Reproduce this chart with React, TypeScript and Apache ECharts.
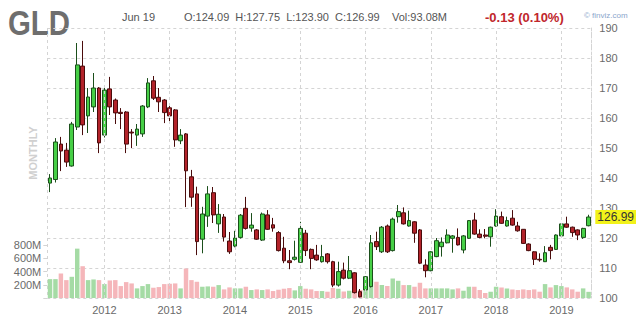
import React, { useEffect, useRef } from 'react';
import * as echarts from 'echarts';

// Monthly categories, Mar 2011 .. Jun 2019
const START_YEAR = 2011;
const START_MONTH = 3;
const MONTH_COUNT = 100;
const months: string[] = [];
for (let i = 0; i < MONTH_COUNT; i++) {
  const m = START_MONTH - 1 + i;
  const y = START_YEAR + Math.floor(m / 12);
  const mm = (m % 12) + 1;
  months.push(`${y}-${String(mm).padStart(2, '0')}`);
}

const opens = [
  138.3, 139.5, 151.3, 149.3, 144.0, 157.0, 177.3, 160.7, 163.7, 170.0,
  154.3, 169.7, 166.0, 161.9, 162.0, 155.3, 154.3, 154.7, 163.7, 172.4,
  166.9, 166.0, 163.4, 162.7, 152.4, 154.7, 140.4, 134.7, 119.6, 127.3,
  135.1, 124.7, 127.0, 119.0, 117.3, 120.2, 129.9, 123.3, 122.7, 119.3,
  127.7, 124.4, 121.8, 116.6, 112.4, 112.9, 111.9, 121.6, 116.2, 114.3,
  112.1, 114.7, 112.1, 104.3, 109.3, 106.6, 108.4, 102.1, 102.7, 103.8,
  118.8, 115.4, 124.0, 115.8, 127.1, 128.4, 124.0, 125.4, 122.7, 111.0,
  109.1, 113.8, 117.1, 118.4, 119.9, 120.2, 116.0, 119.9, 126.0, 121.3,
  121.0, 120.4, 124.0, 127.1, 124.0, 126.6, 124.0, 122.9, 118.0, 115.4,
  112.9, 112.1, 116.9, 116.2, 120.7, 124.7, 123.6, 122.7, 120.2, 124.09,
];
const closes = [
  140.0, 152.0, 149.0, 145.3, 158.0, 177.7, 157.7, 167.0, 170.0, 151.7,
  169.3, 163.7, 161.7, 161.5, 151.3, 155.0, 156.3, 164.0, 171.7, 166.6,
  165.4, 161.8, 160.7, 152.7, 154.3, 142.4, 133.6, 118.8, 128.0, 134.7,
  127.7, 127.9, 120.3, 115.4, 120.0, 127.6, 123.2, 124.3, 119.6, 128.0,
  122.9, 123.3, 115.8, 112.4, 111.8, 113.6, 123.2, 115.8, 113.2, 112.7,
  113.8, 112.1, 104.3, 108.8, 106.6, 109.1, 101.8, 100.4, 107.1, 118.4,
  117.1, 123.6, 115.4, 126.3, 128.8, 124.7, 125.8, 121.6, 111.6, 109.1,
  115.4, 119.1, 118.6, 121.0, 120.7, 117.7, 120.7, 125.8, 121.3, 120.2,
  120.6, 123.6, 127.3, 124.9, 125.8, 124.3, 122.4, 118.2, 115.8, 112.9,
  112.7, 115.1, 115.8, 121.0, 124.7, 123.6, 121.8, 121.0, 123.2, 126.99,
];
const lows = [
  135.3, 138.5, 142.3, 143.7, 143.8, 156.0, 154.3, 155.0, 162.0, 148.3,
  153.5, 161.0, 158.0, 156.3, 148.3, 150.0, 150.7, 153.7, 163.3, 166.0,
  162.0, 158.3, 158.4, 150.4, 151.3, 130.3, 130.4, 114.3, 114.9, 123.7,
  125.0, 121.7, 118.8, 114.7, 116.9, 119.8, 122.8, 122.1, 119.4, 119.0,
  122.7, 122.1, 115.5, 111.6, 109.6, 112.5, 111.7, 114.0, 109.6, 112.4,
  111.8, 111.5, 103.6, 103.8, 106.2, 106.3, 101.5, 100.2, 102.3, 103.5,
  116.0, 115.0, 115.0, 115.5, 125.1, 124.5, 123.8, 118.4, 111.3, 106.9,
  108.9, 113.6, 113.8, 118.2, 115.1, 117.5, 114.9, 119.7, 121.1, 119.9,
  119.9, 117.1, 123.8, 124.7, 123.8, 124.1, 122.1, 118.0, 115.6, 111.0,
  112.1, 112.0, 112.9, 116.0, 120.5, 123.4, 120.4, 119.3, 119.7, 123.90,
];
const highs = [
  141.3, 153.3, 153.7, 151.7, 158.7, 185.0, 185.7, 170.0, 175.0, 170.3,
  170.0, 173.7, 166.5, 163.3, 162.3, 156.3, 158.0, 164.3, 173.3, 174.0,
  170.0, 166.3, 164.3, 163.0, 156.3, 155.0, 142.7, 137.1, 130.4, 137.3,
  137.0, 131.3, 128.0, 122.0, 122.4, 128.0, 133.7, 128.3, 123.0, 128.5,
  129.3, 126.7, 122.3, 120.4, 116.0, 119.1, 125.4, 122.7, 116.5, 117.7,
  117.7, 115.0, 112.4, 112.1, 111.8, 114.0, 108.6, 103.0, 107.3, 121.0,
  122.1, 124.0, 124.5, 126.8, 131.0, 130.2, 129.1, 125.6, 123.0, 112.9,
  115.6, 120.0, 120.2, 122.9, 121.0, 123.2, 121.0, 126.0, 128.4, 122.9,
  123.0, 123.8, 129.6, 128.8, 127.1, 129.3, 125.4, 123.0, 118.2, 115.6,
  114.9, 117.3, 117.7, 121.2, 124.9, 127.1, 123.8, 122.9, 123.4, 127.75,
];
// Monthly volume, millions of shares
const volumes = [
  285, 285, 370, 270, 320, 745, 480, 270, 280, 270,
  210, 265, 270, 180, 240, 220, 145, 180, 210, 155,
  165, 210, 215, 220, 145, 445, 270, 245, 170, 175,
  170, 195, 130, 160, 145, 145, 170, 120, 130, 120,
  130, 105, 125, 140, 150, 115, 180, 140, 130, 105,
  105, 95, 150, 140, 100, 110, 135, 120, 245, 295,
  245, 195, 180, 295, 260, 195, 195, 170, 230, 145,
  145, 145, 145, 145, 130, 145, 110, 170, 170, 120,
  75, 95, 170, 160, 145, 130, 120, 130, 120, 130,
  95, 210, 160, 195, 180, 160, 130, 95, 145, 93.08,
];

const priceTicks = { min: 100, max: 190, interval: 10 };
const volumeTicks = { min: 0, max: 800, interval: 200 };
const lastPrice = 126.99;

const FONT = '"Liberation Sans", Arial, sans-serif';
const UP_FILL = '#46cf46';
const UP_BORDER = '#1b4f1b';
const DOWN_FILL = '#b3232a';
const DOWN_BORDER = '#4a0c0c';
const VOL_UP = '#a5dba5';
const VOL_DOWN = '#f5b6ba';
const GRID_COLOR = '#d4d4d4';

export default function App() {
  const ref = useRef<HTMLDivElement>(null);
  useEffect(() => {
    if (!ref.current) return;
    const chart = echarts.init(ref.current, undefined, { renderer: 'svg' });
    const candleData = months.map((_, i) => [opens[i], closes[i], lows[i], highs[i]]);
    const volData = months.map((_, i) => ({
      value: volumes[i],
      itemStyle: { color: closes[i] >= opens[i] ? VOL_UP : VOL_DOWN },
    }));
    const yearStarts = months.filter((m) => m.endsWith('-01'));
    const gridLeft = 47.3;
    const gridRight = 48.7;
    chart.setOption({
      animation: false,
      grid: [
        { left: gridLeft, right: gridRight, top: 28, bottom: 23 },
        { left: gridLeft, right: gridRight, top: 245, bottom: 23 },
      ],
      xAxis: [
        {
          type: 'category',
          gridIndex: 0,
          data: months,
          boundaryGap: true,
          axisLine: { show: false },
          axisTick: { show: false },
          axisLabel: {
            interval: (_i: number, v: string) => v.endsWith('-01'),
            formatter: (v: string) => v.slice(0, 4),
            color: '#6a6a6a',
            fontFamily: FONT,
            fontSize: 11,
            margin: 6,
          },
          splitLine: {
            show: true,
            interval: (i: number) => i === 0,
            lineStyle: { color: GRID_COLOR, type: [3, 3] },
          },
        },
        {
          type: 'category',
          gridIndex: 1,
          data: months,
          boundaryGap: true,
          show: false,
        },
      ],
      yAxis: [
        {
          type: 'value',
          gridIndex: 0,
          position: 'right',
          min: priceTicks.min,
          max: priceTicks.max,
          interval: priceTicks.interval,
          axisLine: { show: true, lineStyle: { color: GRID_COLOR, type: [2, 2] } },
          axisTick: { show: false },
          axisLabel: { color: '#6a6a6a', fontFamily: FONT, fontSize: 11, margin: 8 },
          splitLine: { show: true, lineStyle: { color: GRID_COLOR, type: [3, 3] } },
        },
        {
          type: 'value',
          gridIndex: 1,
          position: 'left',
          min: volumeTicks.min,
          max: volumeTicks.max,
          interval: volumeTicks.interval,
          axisLine: { show: false },
          axisTick: { show: true, length: 4, lineStyle: { color: GRID_COLOR } },
          axisLabel: {
            color: '#6a6a6a',
            fontFamily: FONT,
            fontSize: 11,
            margin: 6,
            formatter: (v: number) => (v === 0 ? '' : `${v}M`),
          },
          splitLine: { show: false },
        },
      ],
      series: [
        {
          type: 'bar',
          xAxisIndex: 1,
          yAxisIndex: 1,
          data: volData,
          barWidth: '82%',
          z: 1,
          silent: true,
        },
        {
          type: 'line',
          xAxisIndex: 0,
          yAxisIndex: 0,
          data: [],
          z: 1,
          silent: true,
          markLine: {
            silent: true,
            symbol: ['none', 'none'],
            label: { show: false },
            lineStyle: { color: GRID_COLOR, type: [3, 3], width: 1 },
            data: yearStarts.map((m) => ({ xAxis: m })),
          },
        },
        {
          type: 'candlestick',
          xAxisIndex: 0,
          yAxisIndex: 0,
          data: candleData,
          barWidth: '78%',
          z: 3,
          itemStyle: {
            color: UP_FILL,
            color0: DOWN_FILL,
            borderColor: UP_BORDER,
            borderColor0: DOWN_BORDER,
            borderWidth: 1,
          },
        },
        {
          type: 'line',
          xAxisIndex: 0,
          yAxisIndex: 0,
          data: [],
          z: 5,
          silent: true,
          markLine: {
            silent: true,
            symbol: ['none', 'none'],
            lineStyle: { color: 'rgba(0,0,0,0)', width: 1 },
            label: {
              show: true,
              position: 'end',
              distance: 4,
              formatter: () => lastPrice.toFixed(2),
              backgroundColor: '#f2f21a',
              color: '#333',
              fontFamily: FONT,
              fontSize: 12,
              lineHeight: 13,
              padding: [1, 2, 0, 2],
            },
            data: [{ yAxis: lastPrice }],
          },
        },
      ],
      graphic: [
        {
          type: 'text',
          x: 8,
          y: 6,
          scaleX: 0.84,
          style: { text: 'GLD', font: `bold 35px ${FONT}`, fill: '#6e6e6e' },
        },
        {
          type: 'text',
          x: 122,
          y: 17,
          style: { text: 'Jun 19', font: `11px ${FONT}`, fill: '#555', verticalAlign: 'middle' },
        },
        {
          type: 'text',
          x: 184,
          y: 17,
          style: {
            text: 'O:124.09  H:127.75  L:123.90  C:126.99',
            font: `11px ${FONT}`,
            fill: '#555',
            verticalAlign: 'middle',
          },
        },
        {
          type: 'text',
          x: 392,
          y: 17,
          style: { text: 'Vol:93.08M', font: `11px ${FONT}`, fill: '#555', verticalAlign: 'middle' },
        },
        {
          type: 'text',
          x: 485,
          y: 17,
          style: {
            text: '-0.13 (0.10%)',
            font: `bold 13px ${FONT}`,
            fill: '#c0262c',
            verticalAlign: 'middle',
          },
        },
        {
          type: 'text',
          x: 584,
          y: 15,
          style: { text: '© finviz.com', font: `8px ${FONT}`, fill: '#8aa6cc', verticalAlign: 'middle' },
        },
        {
          type: 'text',
          x: 33,
          y: 153,
          rotation: Math.PI / 2,
          style: {
            text: 'MONTHLY',
            font: `bold 11px ${FONT}`,
            fill: '#d0d0d0',
            align: 'center',
            verticalAlign: 'middle',
          },
        },
      ],
    });
    return () => chart.dispose();
  }, []);
  return (
    <div
      ref={ref}
      style={{ position: 'fixed', left: 0, top: 0, width: 640, height: 321, background: '#fff' }}
    />
  );
}
